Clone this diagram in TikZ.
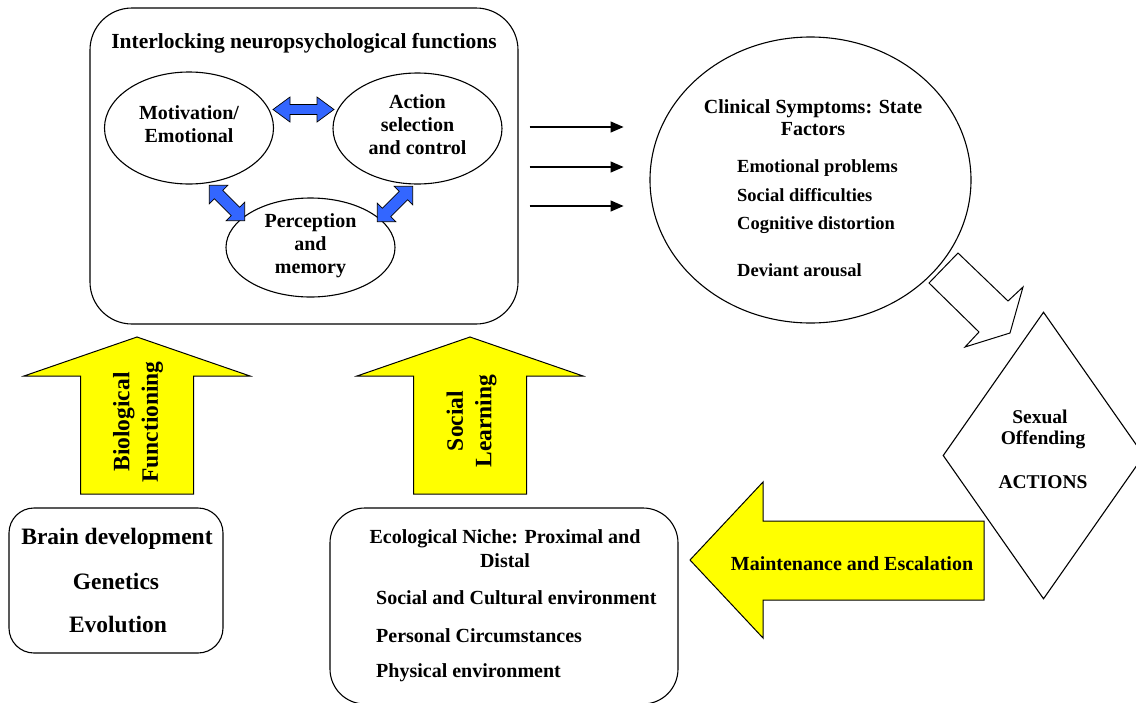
\documentclass[tikz,border=0pt]{standalone}
\usepackage{fontspec}
\setmainfont{Liberation Serif}
\usetikzlibrary{arrows.meta,positioning,calc,shapes.geometric}
\definecolor{ablue}{RGB}{51,102,255}
\definecolor{ayellow}{RGB}{255,255,0}

\begin{document}
\begin{tikzpicture}[x=1pt,y=-1pt,
    txt/.style={inner sep=0pt,font=\fontsize{20}{23}\selectfont\bfseries},
    item/.style={txt,font=\fontsize{18.5}{22}\selectfont\bfseries},
    big/.style={txt,font=\fontsize{23.5}{28.5}\selectfont\bfseries},
    vert/.style={big,rotate=90,align=center},
    bx/.style={draw,line width=1.1pt,rounded corners=#1,inner sep=0pt},
    ell/.style={draw,ellipse,line width=1.1pt,txt,align=center,
        execute at begin node=\strut,execute at end node=\strut},
    flow/.style={-{Triangle[length=13pt,width=11pt]},line width=1.2pt},
    blk/.style={draw,fill=ablue,line width=0.7pt},
    yarr/.style={draw,fill=ayellow,line width=1pt}
]
\useasboundingbox (0,0) rectangle (1136,702);
\clip (0,0) rectangle (1136,702);

% interlocking functions
\node[bx=42,minimum width=428,minimum height=316] (main) at (304,166) {};
\node[txt,font=\fontsize{21.5}{25}\selectfont\bfseries,anchor=base] (title) at (304,48) {Interlocking neuropsychological functions};
\node[ell,minimum width=169,minimum height=112] (mot) at (189,128) {Motivation/\\Emotional};
\node[ell,minimum width=169,minimum height=111] (act) at (417.5,128.5) {Action\\selection\\and control};
\node[ell,minimum width=169,minimum height=99] (perc) at (310.5,247.5) {Perception\\and\\memory};

\coordinate (ma) at (303.5,109.5);
\coordinate (mp) at (227,203);
\coordinate (ap) at (395,204);
\draw[blk,shift={(ma)}] (-30.5,0) -- (-13.5,-12.5) -- (-13.5,-5) -- (13.5,-5) -- (13.5,-12.5)
    -- (30.5,0) -- (13.5,12.5) -- (13.5,5) -- (-13.5,5) -- (-13.5,12.5) -- cycle;
\foreach \c/\r in {mp/-45,ap/45}
  \draw[blk,shift={(\c)},rotate=\r] (-25,0) -- (-12,-13) -- (-12,-6) -- (12,-6) -- (12,-13)
      -- (25,0) -- (12,13) -- (12,6) -- (-12,6) -- (-12,13) -- cycle;

\foreach \dy in {-39,1,40}
  \draw[flow] ([shift={(11,\dy)}]main.east) -- ++(94,0);

% state factors
\node[draw,ellipse,line width=1.1pt,minimum width=321,minimum height=286] (sym) at (810.5,180) {};
\node[txt,anchor=base] (symt) at (813,113) {Clinical Symptoms: State};
\node[txt,anchor=base] (symf) at (813,135) {Factors};
\foreach \t/\yy/\n in {Emotional problems/172/e,Social difficulties/201/s,Cognitive distortion/229/c,Deviant arousal/276/d}
  \node[item,anchor=base west] (sym-\n) at (737,\yy) {\t};

\draw[line width=1pt] (958,253) -- (1008,301) -- (1023,287) -- (1010,333) -- (965,347)
    -- (979,332) -- (929,283) -- cycle;

% offending
\node[draw,diamond,line width=1.1pt,inner sep=0pt,minimum width=201,minimum height=287] (off) at (1043.5,455.5) {};
\node[txt,font=\fontsize{19.5}{22}\selectfont\bfseries,anchor=base] (off1) at (1040,423) {Sexual};
\node[txt,font=\fontsize{19.5}{22}\selectfont\bfseries,anchor=base] (off2) at (1043,444) {Offending};
\node[txt,font=\fontsize{19.5}{22}\selectfont\bfseries,anchor=base] (off3) at (1043,488) {ACTIONS};

\draw[yarr] (690,560) -- (763,482) -- (763,521) -- (984,521) -- (984,600) -- (763,600) -- (763,638) -- cycle;
\node[txt,anchor=base] (maint) at (852,570) {Maintenance and Escalation};

% upward arrows
\foreach \cx in {137,470}
  \draw[yarr] (\cx,337) -- (\cx+113,376) -- (\cx+56.5,376) -- (\cx+56.5,494) -- (\cx-56.5,494)
      -- (\cx-56.5,376) -- (\cx-113,376) -- cycle;
\node[vert] (biof) at (138,422) {Biological\\Functioning};
\node[vert] (socl) at (471.5,421) {Social\\Learning};

% biology
\node[bx=25,minimum width=214,minimum height=145] (brain) at (116,580.5) {};
\node[big,anchor=base] (b1) at (117,544) {Brain development};
\node[big,anchor=base] (b2) at (116,589) {Genetics};
\node[big,anchor=base] (b3) at (118,632) {Evolution};

% ecological niche
\node[bx=35,minimum width=348,minimum height=196] (eco) at (504,606) {};
\node[txt,anchor=base] (eco1) at (505,543) {Ecological Niche: Proximal and};
\node[txt,anchor=base] (eco2) at (505,567) {Distal};
\foreach \t/\yy/\n in {Social and Cultural environment/604/sc,Personal Circumstances/642/pc,Physical environment/677/pe}
  \node[txt,anchor=base west] (eco-\n) at (376,\yy) {\t};
\end{tikzpicture}
\end{document}
